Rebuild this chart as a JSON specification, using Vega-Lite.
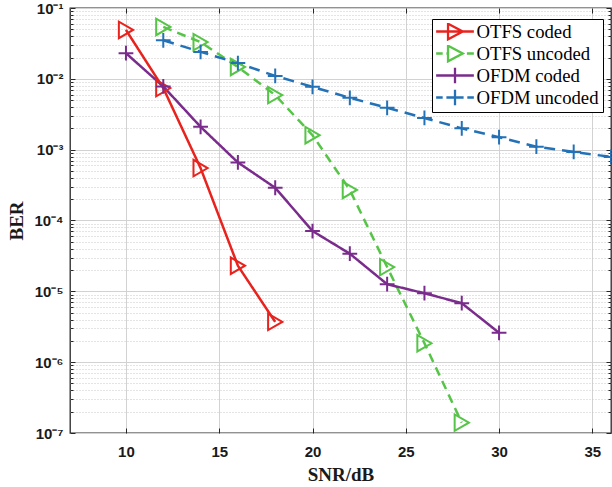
{
  "$schema": "https://vega.github.io/schema/vega-lite/v6.json",
  "autosize": {"type": "none"},
  "padding": {"left": 70, "top": 8, "right": 1, "bottom": 54},
  "width": 541,
  "height": 425,
  "background": "white",
  "config": {
    "view": {"stroke": "#262626", "strokeWidth": 1.3},
    "axis": {"zindex": 0}
  },
  "data": {
    "values": [
      {"series": "OTFS coded", "snr": 10, "ber": 0.049},
      {"series": "OTFS coded", "snr": 12, "ber": 0.0074},
      {"series": "OTFS coded", "snr": 14, "ber": 0.00055},
      {"series": "OTFS coded", "snr": 16, "ber": 0.000023},
      {"series": "OTFS coded", "snr": 18, "ber": 0.0000037},
      {"series": "OTFS uncoded", "snr": 12, "ber": 0.054},
      {"series": "OTFS uncoded", "snr": 14, "ber": 0.033},
      {"series": "OTFS uncoded", "snr": 16, "ber": 0.0147},
      {"series": "OTFS uncoded", "snr": 18, "ber": 0.0059},
      {"series": "OTFS uncoded", "snr": 20, "ber": 0.0016},
      {"series": "OTFS uncoded", "snr": 22, "ber": 0.00027},
      {"series": "OTFS uncoded", "snr": 24, "ber": 0.000022},
      {"series": "OTFS uncoded", "snr": 26, "ber": 0.00000185},
      {"series": "OTFS uncoded", "snr": 28, "ber": 0.00000014},
      {"series": "OFDM coded", "snr": 10, "ber": 0.023},
      {"series": "OFDM coded", "snr": 12, "ber": 0.0078},
      {"series": "OFDM coded", "snr": 14, "ber": 0.0021},
      {"series": "OFDM coded", "snr": 16, "ber": 0.00066},
      {"series": "OFDM coded", "snr": 18, "ber": 0.00029},
      {"series": "OFDM coded", "snr": 20, "ber": 0.000071},
      {"series": "OFDM coded", "snr": 22, "ber": 0.000034},
      {"series": "OFDM coded", "snr": 24, "ber": 0.0000126},
      {"series": "OFDM coded", "snr": 26, "ber": 0.0000094},
      {"series": "OFDM coded", "snr": 28, "ber": 0.0000068},
      {"series": "OFDM coded", "snr": 30, "ber": 0.0000026},
      {"series": "OFDM uncoded", "snr": 12, "ber": 0.035},
      {"series": "OFDM uncoded", "snr": 14, "ber": 0.024},
      {"series": "OFDM uncoded", "snr": 16, "ber": 0.0167},
      {"series": "OFDM uncoded", "snr": 18, "ber": 0.011},
      {"series": "OFDM uncoded", "snr": 20, "ber": 0.0077},
      {"series": "OFDM uncoded", "snr": 22, "ber": 0.0054},
      {"series": "OFDM uncoded", "snr": 24, "ber": 0.0039},
      {"series": "OFDM uncoded", "snr": 26, "ber": 0.0028},
      {"series": "OFDM uncoded", "snr": 28, "ber": 0.002},
      {"series": "OFDM uncoded", "snr": 30, "ber": 0.0015},
      {"series": "OFDM uncoded", "snr": 32, "ber": 0.0011},
      {"series": "OFDM uncoded", "snr": 34, "ber": 0.00093},
      {"series": "OFDM uncoded", "snr": 36, "ber": 0.00079}
    ]
  },
  "resolve": {
    "scale": {"shape": "independent"},
    "axis": {"x": "independent", "y": "independent"},
    "legend": {"color": "independent", "shape": "independent", "strokeDash": "independent"}
  },
  "layer": [
    {
      "mark": {"type": "point", "opacity": 0},
      "encoding": {
        "x": {"field": "snr", "type": "quantitative", "scale": {"domain": [7, 36], "nice": false, "zero": false},
          "axis": {"orient": "top", "values": [10, 15, 20, 25, 30, 35], "grid": false, "labels": false, "domain": false, "ticks": true, "tickSize": -5, "tickColor": "#262626", "tickWidth": 1, "title": null}},
        "y": {"field": "ber", "type": "quantitative", "scale": {"type": "log", "domain": [1e-7, 0.1], "nice": false},
          "axis": {"orient": "left", "values": [2e-7,3e-7,4e-7,5e-7,6e-7,7e-7,8e-7,9e-7,2e-6,3e-6,4e-6,5e-6,6e-6,7e-6,8e-6,9e-6,2e-5,3e-5,4e-5,5e-5,6e-5,7e-5,8e-5,9e-5,2e-4,3e-4,4e-4,5e-4,6e-4,7e-4,8e-4,9e-4,0.002,0.003,0.004,0.005,0.006,0.007,0.008,0.009,0.02,0.03,0.04,0.05,0.06,0.07,0.08,0.09],
            "grid": true, "gridDash": [1, 2], "gridColor": "#c8c8c8", "gridWidth": 1, "labels": false, "domain": false, "ticks": true, "tickSize": -3, "tickColor": "#262626", "tickWidth": 1, "title": null}}
      }
    },
    {
      "mark": {"type": "point", "opacity": 0},
      "encoding": {
        "x": {"field": "snr", "type": "quantitative",
          "axis": {"orient": "bottom", "values": [10, 15, 20, 25, 30, 35], "grid": false, "labels": false, "domain": false, "ticks": true, "tickSize": -5, "tickColor": "#262626", "tickWidth": 1, "title": null}},
        "y": {"field": "ber", "type": "quantitative",
          "axis": {"orient": "right", "values": [2e-7,3e-7,4e-7,5e-7,6e-7,7e-7,8e-7,9e-7,2e-6,3e-6,4e-6,5e-6,6e-6,7e-6,8e-6,9e-6,2e-5,3e-5,4e-5,5e-5,6e-5,7e-5,8e-5,9e-5,2e-4,3e-4,4e-4,5e-4,6e-4,7e-4,8e-4,9e-4,0.002,0.003,0.004,0.005,0.006,0.007,0.008,0.009,0.02,0.03,0.04,0.05,0.06,0.07,0.08,0.09],
            "grid": false, "labels": false, "domain": false, "ticks": true, "tickSize": -3, "tickColor": "#262626", "tickWidth": 1, "title": null}}
      }
    },
    {
      "mark": {"type": "point", "opacity": 0},
      "encoding": {
        "x": {"field": "snr", "type": "quantitative", "axis": null},
        "y": {"field": "ber", "type": "quantitative",
          "axis": {"orient": "right", "values": [1e-7, 1e-6, 1e-5, 1e-4, 0.001, 0.01, 0.1], "grid": false, "labels": false, "domain": false, "ticks": true, "tickSize": -5, "tickColor": "#262626", "tickWidth": 1, "title": null}}
      }
    },
    {
      "mark": {"type": "point", "opacity": 0},
      "encoding": {
        "x": {"field": "snr", "type": "quantitative", "axis": null},
        "y": {"field": "ber", "type": "quantitative",
          "axis": {"orient": "left", "values": [1e-7, 1e-6, 1e-5, 1e-4, 0.001, 0.01, 0.1], "grid": false, "labels": false, "domain": false, "ticks": true, "tickSize": -5, "tickColor": "#262626", "tickWidth": 1, "title": null}}
      }
    },
    {
      "mark": {"type": "line", "strokeWidth": 2.5, "clip": true},
      "encoding": {
        "x": {"field": "snr", "type": "quantitative",
          "axis": {"orient": "bottom", "values": [10, 15, 20, 25, 30, 35], "grid": true, "gridColor": "#d2d2d2", "gridWidth": 1, "ticks": false, "domain": false,
            "labelFont": "Liberation Sans", "labelFontWeight": "bold", "labelFontSize": 15, "labelColor": "#1a1a1a", "labelPadding": 11,
            "title": "SNR/dB", "titleFont": "Liberation Serif", "titleFontSize": 19, "titleFontWeight": "bold", "titleColor": "#1a1a1a", "titlePadding": 6}},
        "y": {"field": "ber", "type": "quantitative",
          "axis": {"orient": "left", "values": [1e-7, 1e-6, 1e-5, 1e-4, 0.001, 0.01, 0.1], "grid": true, "gridColor": "#d2d2d2", "gridWidth": 1, "ticks": false, "domain": false,
            "labelExpr": "'10⁻' + ['⁰','¹','²','³','⁴','⁵','⁶','⁷'][round(-log(datum.value)/LN10)]",
            "labelFont": "Liberation Sans", "labelFontWeight": "bold", "labelFontSize": 15, "labelColor": "#1a1a1a", "labelPadding": 7, "labelDy": 4,
            "title": "BER", "titleFont": "Liberation Serif", "titleFontSize": 19, "titleFontWeight": "bold", "titleColor": "#1a1a1a", "titlePadding": 7}},
        "color": {"field": "series", "type": "nominal",
          "scale": {"domain": ["OTFS coded", "OTFS uncoded", "OFDM coded", "OFDM uncoded"], "range": ["#e8231e", "#56c447", "#7a2c8c", "#2372b8"]},
          "legend": null},
        "strokeDash": {"field": "series", "type": "nominal",
          "scale": {"domain": ["OTFS coded", "OTFS uncoded", "OFDM coded", "OFDM uncoded"], "range": [[1, 0], [9, 6], [1, 0], [11, 7]]},
          "legend": null}
      }
    },
    {
      "mark": {"type": "point", "filled": false, "strokeWidth": 2, "size": 269, "opacity": 1, "clip": true},
      "encoding": {
        "x": {"field": "snr", "type": "quantitative", "axis": null},
        "y": {"field": "ber", "type": "quantitative", "axis": null},
        "color": {"field": "series", "type": "nominal", "legend": null},
        "shape": {"field": "series", "type": "nominal",
          "scale": {"domain": ["OTFS coded", "OTFS uncoded", "OFDM coded", "OFDM uncoded"], "range": ["triangle-right", "triangle-right", "M-0.9,0L0.9,0M0,-0.9L0,0.9", "M-0.9,0L0.9,0M0,-0.9L0,0.9"]},
          "legend": null}
      }
    },
    {
      "mark": {"type": "point", "filled": false, "strokeWidth": 2.3, "size": 269, "opacity": 0},
      "encoding": {
        "x": {"field": "snr", "type": "quantitative", "axis": null},
        "y": {"field": "ber", "type": "quantitative", "axis": null},
        "color": {"field": "series", "type": "nominal",
          "legend": {"orient": "none", "legendX": 362, "legendY": 11, "title": null, "padding": 4, "rowPadding": 2, "clipHeight": 17, "symbolSize": 269, "symbolStrokeWidth": 2.3, "symbolOpacity": 1, "symbolOffset": 9.5, "labelOffset": 12, "labelFont": "Liberation Serif", "labelFontSize": 18.7, "labelColor": "#000000", "fillColor": "white", "strokeColor": "#000000", "symbolFillColor": "transparent", "zindex": 1}},
        "shape": {"field": "series", "type": "nominal",
          "scale": {"domain": ["OTFS coded", "OTFS uncoded", "OFDM coded", "OFDM uncoded"],
            "range": [
              "M-2.3,0L2.3,0M-0.85,-0.95L0.95,0L-0.85,0.95Z",
              "M-2.3,0L-1.5,0M-1.05,0L-0.85,0M-0.85,-0.95L0.95,0L-0.85,0.95ZM1.45,0L2.3,0",
              "M-2.3,0L2.3,0M0,-0.95L0,0.95",
              "M-2.3,0L-1.5,0M-1.05,0L1.05,0M0,-0.95L0,0.95M1.5,0L2.3,0"
            ]},
          "legend": {"orient": "none", "legendX": 362, "legendY": 11, "title": null, "padding": 4, "rowPadding": 2, "clipHeight": 17, "symbolSize": 269, "symbolStrokeWidth": 2.3, "symbolOpacity": 1, "symbolOffset": 9.5, "labelOffset": 12, "labelFont": "Liberation Serif", "labelFontSize": 18.7, "labelColor": "#000000", "fillColor": "white", "strokeColor": "#000000", "symbolFillColor": "transparent", "zindex": 1}}
      }
    }
  ]
}
